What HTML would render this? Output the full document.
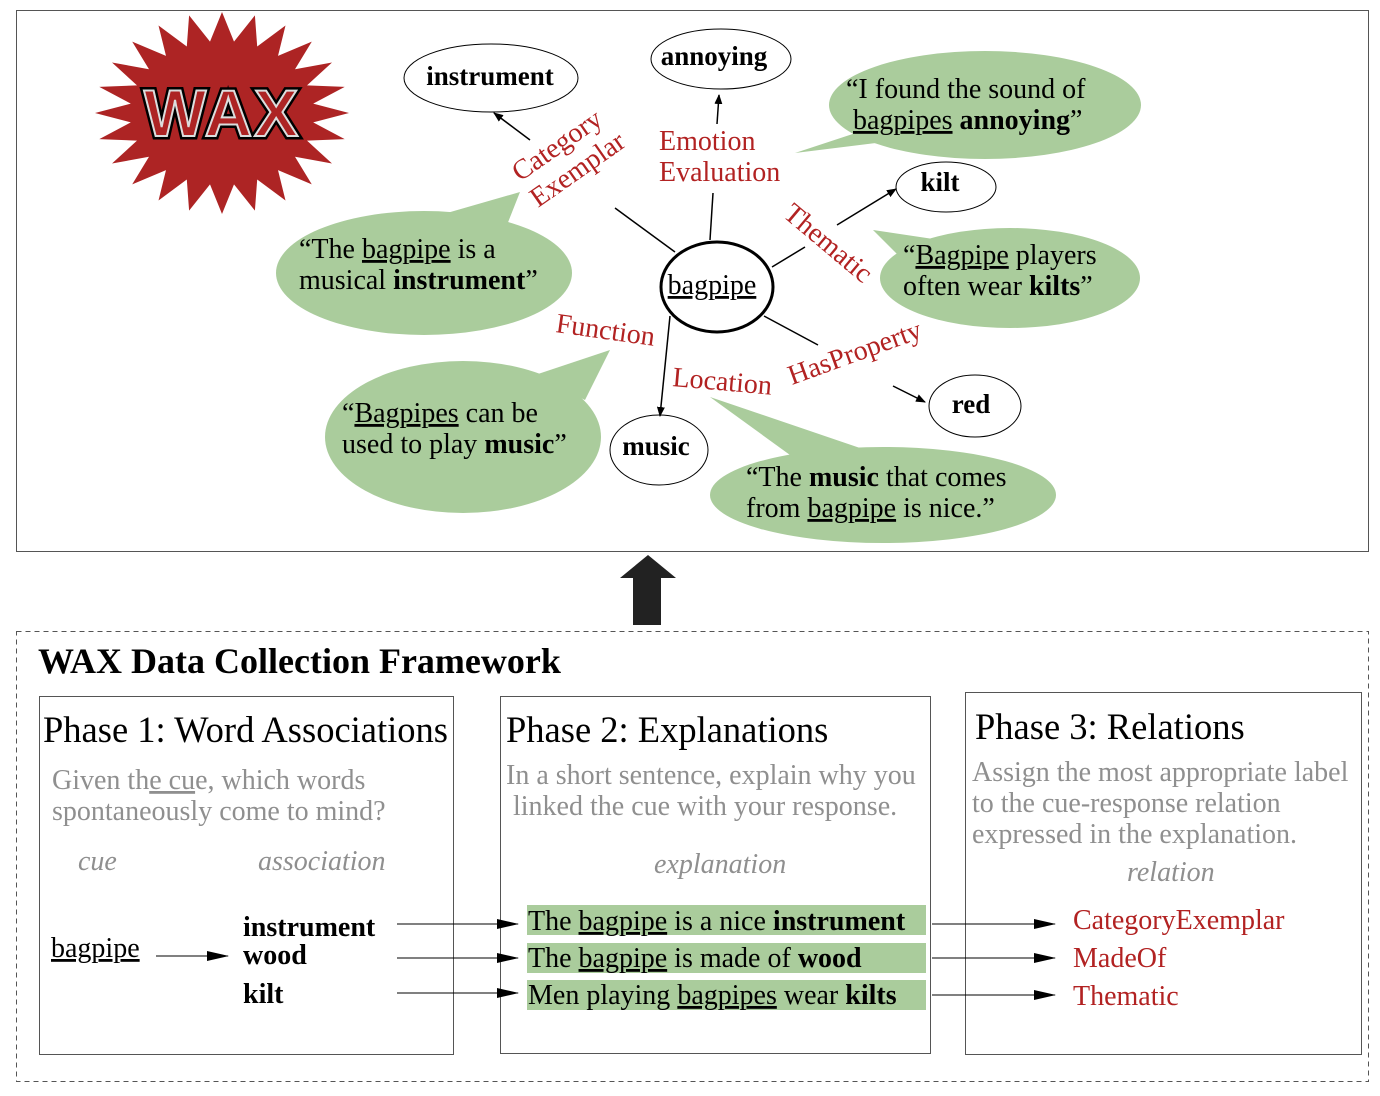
<!DOCTYPE html>
<html><head><meta charset="utf-8"><style>
html,body{margin:0;padding:0;background:#fff;}
svg{display:block;font-family:"Liberation Serif",serif;}
.r{fill:#b22222;}
.g{fill:#8f8f8f;}
</style></head><body>
<svg id="s" width="1380" height="1096" viewBox="0 0 1380 1096" xmlns="http://www.w3.org/2000/svg">
<defs>
<marker id="a" markerWidth="10" markerHeight="8" refX="9" refY="4" orient="auto" markerUnits="userSpaceOnUse"><path d="M0,0 L10,4 L0,8 z" fill="#000"/></marker>
<marker id="b" markerWidth="22" markerHeight="10" refX="21" refY="5" orient="auto" markerUnits="userSpaceOnUse"><path d="M0,0 L22,5 L0,10 z" fill="#000"/></marker>
</defs>
<rect x="16.5" y="10.5" width="1352" height="541" fill="none" stroke="#555" stroke-width="1"/>
<polygon id="star" fill="#ad2424"/>
<text x="222" y="136" text-anchor="middle" font-family="Liberation Sans, sans-serif" font-weight="bold" font-size="66" fill="#ad2424" stroke="#000" stroke-width="7" paint-order="stroke" letter-spacing="2">WAX</text>
<text x="222" y="136" text-anchor="middle" font-family="Liberation Sans, sans-serif" font-weight="bold" font-size="66" fill="#ad2424" stroke="#ddd" stroke-width="2" letter-spacing="2">WAX</text>

<g fill="#aacc9c">
<ellipse cx="985" cy="105" rx="156" ry="54"/><polygon points="795,153 880,125 900,140"/>
<ellipse cx="424" cy="273" rx="148" ry="62"/><polygon points="520,192 440,215 505,230"/>
<ellipse cx="1010" cy="278" rx="130" ry="50"/><polygon points="873,230 940,240 905,262"/>
<ellipse cx="463" cy="437" rx="138" ry="76"/><polygon points="610,350 535,375 585,400"/>
<ellipse cx="883" cy="495" rx="173" ry="48"/><polygon points="710,397 790,455 860,448"/>
</g>
<g font-size="28">
<text x="846" y="98">“I found the sound of</text>
<text x="853" y="129"><tspan text-decoration="underline">bagpipes</tspan> <tspan font-weight="bold">annoying</tspan>”</text>
<text x="299" y="258">“The <tspan text-decoration="underline">bagpipe</tspan> is a</text>
<text x="299" y="289">musical <tspan font-weight="bold">instrument</tspan>”</text>
<text x="903" y="264">“<tspan text-decoration="underline">Bagpipe</tspan> players</text>
<text x="903" y="295">often wear <tspan font-weight="bold">kilts</tspan>”</text>
<text x="342" y="422">“<tspan text-decoration="underline">Bagpipes</tspan> can be</text>
<text x="342" y="453">used to play <tspan font-weight="bold">music</tspan>”</text>
<text x="746" y="486">“The <tspan font-weight="bold">music</tspan> that comes</text>
<text x="746" y="517">from <tspan text-decoration="underline">bagpipe</tspan> is nice.”</text>
</g>

<g fill="#fff" stroke="#000" stroke-width="1">
<ellipse cx="491" cy="78" rx="87" ry="34"/>
<ellipse cx="721" cy="59" rx="70" ry="30"/>
<ellipse cx="946" cy="187" rx="50" ry="25"/>
<ellipse cx="659" cy="450" rx="49" ry="35"/>
<ellipse cx="975" cy="406" rx="46" ry="31"/>
<ellipse cx="717" cy="287" rx="56" ry="45" stroke-width="3"/>
</g>
<g font-size="27" font-weight="bold" text-anchor="middle">
<text x="490" y="85">instrument</text>
<text x="714" y="65">annoying</text>
<text x="940" y="191">kilt</text>
<text x="656" y="455">music</text>
<text x="971" y="413">red</text>
</g>
<text x="712" y="294" font-size="28" text-anchor="middle" text-decoration="underline">bagpipe</text>

<g stroke="#000" stroke-width="1.5" fill="none">
<line x1="675" y1="252" x2="615" y2="208"/>
<line x1="530" y1="140" x2="494" y2="113" marker-end="url(#a)"/>
<line x1="710" y1="240" x2="713" y2="193"/>
<line x1="717" y1="124" x2="719" y2="95" marker-end="url(#a)"/>
<line x1="772" y1="267" x2="805" y2="247"/>
<line x1="837" y1="225" x2="896" y2="189" marker-end="url(#a)"/>
<line x1="764" y1="316" x2="818" y2="345"/>
<line x1="893" y1="386" x2="925" y2="402" marker-end="url(#a)"/>
<line x1="670" y1="316" x2="660" y2="416" marker-end="url(#a)"/>
</g>
<g font-size="28" class="r">
<text transform="translate(520,182) rotate(-35)">Category</text>
<text transform="translate(538,208) rotate(-35)">Exemplar</text>
<text x="659" y="150">Emotion</text>
<text x="659" y="181">Evaluation</text>
<text transform="translate(782,216) rotate(40)">Thematic</text>
<text transform="translate(555,332) rotate(8)">Function</text>
<text transform="translate(672,386) rotate(5)">Location</text>
<text transform="translate(792,385) rotate(-20)">HasProperty</text>
</g>

<polygon points="633,625 661,625 661,578 676,578 648,555 620,578 633,578" fill="#222"/>

<rect x="16.5" y="631.5" width="1352" height="450" fill="none" stroke="#555" stroke-dasharray="5,4"/>
<text x="38" y="673" font-size="36" font-weight="bold">WAX Data Collection Framework</text>
<g fill="none" stroke="#555">
<rect x="39.5" y="696.5" width="414" height="358"/>
<rect x="500.5" y="696.5" width="430" height="357"/>
<rect x="965.5" y="692.5" width="396" height="362"/>
</g>
<text x="43" y="742" font-size="36.5">Phase 1: Word Associations</text>
<text x="506" y="742" font-size="36.5">Phase 2: Explanations</text>
<text x="975" y="739" font-size="36.5">Phase 3: Relations</text>
<g font-size="28" class="g">
<text x="52" y="789">Given th<tspan text-decoration="underline">e cu</tspan>e, which words</text>
<text x="52" y="820">spontaneously come to mind?</text>
<text x="78" y="870" font-style="italic">cue</text>
<text x="258" y="870" font-style="italic">association</text>
<text x="506" y="784">In a short sentence, explain why you</text>
<text x="513" y="815">linked the cue with your response.</text>
<text x="654" y="873" font-style="italic">explanation</text>
<text x="972" y="781">Assign the most appropriate label</text>
<text x="972" y="812">to the cue-response relation</text>
<text x="972" y="843">expressed in the explanation.</text>
<text x="1127" y="881" font-style="italic">relation</text>
</g>
<text x="51" y="957" font-size="28" text-decoration="underline">bagpipe</text>
<g font-size="28" font-weight="bold">
<text x="243" y="936">instrument</text>
<text x="243" y="964">wood</text>
<text x="243" y="1003">kilt</text>
</g>
<g fill="#aacc9c">
<rect x="527" y="905" width="399" height="30"/>
<rect x="527" y="943" width="399" height="30"/>
<rect x="527" y="980" width="399" height="30"/>
</g>
<g font-size="28">
<text x="528" y="930">The <tspan text-decoration="underline">bagpipe</tspan> is a nice <tspan font-weight="bold">instrument</tspan></text>
<text x="528" y="967">The <tspan text-decoration="underline">bagpipe</tspan> is made of <tspan font-weight="bold">wood</tspan></text>
<text x="528" y="1004">Men playing <tspan text-decoration="underline">bagpipes</tspan> wear <tspan font-weight="bold">kilts</tspan></text>
</g>
<g stroke="#000" stroke-width="1">
<line x1="156" y1="956" x2="228" y2="956" marker-end="url(#b)"/>
<line x1="397" y1="924" x2="518" y2="924" marker-end="url(#b)"/>
<line x1="397" y1="958" x2="518" y2="958" marker-end="url(#b)"/>
<line x1="397" y1="993" x2="518" y2="993" marker-end="url(#b)"/>
<line x1="932" y1="924" x2="1055" y2="924" marker-end="url(#b)"/>
<line x1="932" y1="958" x2="1055" y2="958" marker-end="url(#b)"/>
<line x1="932" y1="995" x2="1055" y2="995" marker-end="url(#b)"/>
</g>
<g font-size="28" class="r">
<text x="1073" y="929">CategoryExemplar</text>
<text x="1073" y="967">MadeOf</text>
<text x="1073" y="1005">Thematic</text>
</g>
</svg>
<script>
(function(){var p=[],cx=222,cy=113;for(var i=0;i<48;i++){var a=i*Math.PI/24,o=i%2==0;var rx=o?127:92,ry=o?101:72;p.push((cx+rx*Math.cos(a)).toFixed(1)+","+(cy+ry*Math.sin(a)).toFixed(1));}document.getElementById("star").setAttribute("points",p.join(" "));})();
</script>
</body></html>
